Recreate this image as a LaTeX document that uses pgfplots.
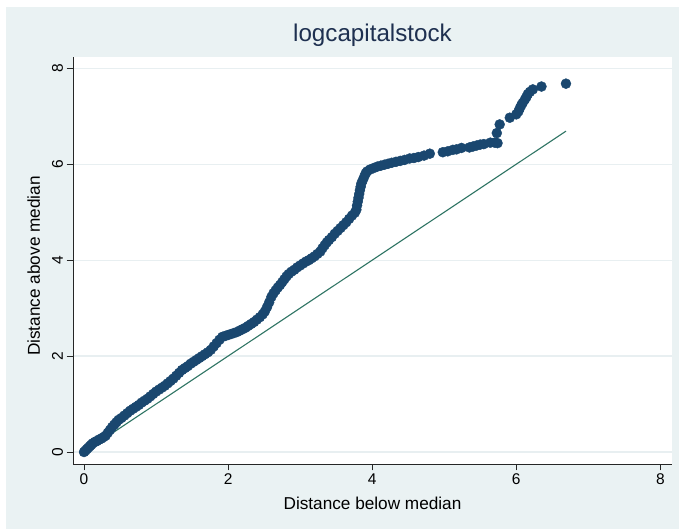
\documentclass[border=0pt]{standalone}
\usepackage{pgfplots}
\pgfplotsset{compat=1.18}
\usepackage{fontspec}
\setmainfont{Liberation Sans}
\definecolor{bgc}{RGB}{234,242,243}
\definecolor{navy}{RGB}{26,71,111}
\definecolor{refc}{RGB}{47,117,100}
\definecolor{gridc}{RGB}{232,239,241}
\definecolor{titlec}{RGB}{30,48,80}
\begin{document}
\begin{tikzpicture}[x=1pt,y=1pt]
\fill[white] (0,0) rectangle (679,529);
\fill[bgc] (6,0) rectangle (679,522);
\begin{axis}[
  scale only axis, width=599pt, height=407pt,
  at={(73pt,65pt)}, anchor=south west,
  axis background/.style={fill=white},
  xmin=-0.153, xmax=8.162, ymin=-0.25, ymax=8.236,
  axis x line*=bottom, axis y line*=left,
  x axis line style={-}, y axis line style={-},
  axis line style={black!85, line width=0.9pt},
  xtick={0,2,4,6,8}, ytick={0,2,4,6,8},
  tick align=outside, major tick length=6.5pt,
  tick style={black!85, line width=0.9pt},
  ymajorgrids, grid style={gridc, line width=1.2pt},
  /pgf/number format/assume math mode=true,
  xticklabel style={font=\fontsize{15.5}{18}\selectfont},
  yticklabel style={font=\fontsize{15.5}{18}\selectfont, rotate=90, anchor=south},
  title={logcapitalstock},
  title style={at={(axis description cs:0.5,1.0221)}, anchor=base, font=\fontsize{24.2}{28}\selectfont, text=titlec, inner sep=0pt},
  xlabel={Distance below median},
  xlabel style={at={(axis description cs:0.5,-0.113)}, anchor=base, font=\fontsize{17.2}{20}\selectfont, inner sep=0pt},
  ylabel={Distance above median},
  ylabel style={at={(axis description cs:-0.0551,0.4865)}, anchor=base, rotate=0, font=\fontsize{17.2}{20}\selectfont, inner sep=0pt},
]
\addplot[only marks, mark=*, mark size=5pt, mark options={draw=navy, fill=navy}] coordinates {
(0.00,0.00) (0.02,0.03) (0.04,0.06) (0.06,0.09) (0.08,0.12) (0.10,0.15)
(0.12,0.18) (0.15,0.21) (0.18,0.23) (0.21,0.26) (0.24,0.28) (0.27,0.31)
(0.30,0.34) (0.33,0.40) (0.36,0.46) (0.39,0.52) (0.42,0.57) (0.45,0.62)
(0.48,0.67) (0.52,0.71) (0.56,0.76) (0.60,0.81) (0.64,0.86) (0.68,0.90)
(0.72,0.94) (0.76,0.98) (0.80,1.03) (0.84,1.07) (0.88,1.11) (0.92,1.16)
(0.96,1.21) (1.00,1.26) (1.04,1.30) (1.08,1.34) (1.12,1.38) (1.16,1.43)
(1.20,1.48) (1.24,1.53) (1.28,1.59) (1.32,1.65) (1.36,1.71) (1.40,1.75)
(1.44,1.79) (1.48,1.84) (1.52,1.88) (1.56,1.92) (1.60,1.96) (1.64,2.00)
(1.68,2.04) (1.72,2.08) (1.76,2.13) (1.80,2.20) (1.84,2.27) (1.88,2.34)
(1.92,2.40) (1.96,2.42) (2.00,2.44) (2.04,2.46) (2.08,2.48) (2.12,2.50)
(2.16,2.53) (2.20,2.56) (2.24,2.59) (2.28,2.63) (2.32,2.67) (2.36,2.71)
(2.40,2.76) (2.44,2.81) (2.48,2.87) (2.51,2.93) (2.54,3.02) (2.57,3.12)
(2.60,3.23) (2.63,3.31) (2.66,3.37) (2.69,3.43) (2.72,3.48) (2.75,3.54)
(2.78,3.60) (2.81,3.66) (2.84,3.71) (2.88,3.76) (2.92,3.80) (2.96,3.85)
(3.00,3.89) (3.04,3.93) (3.08,3.97) (3.12,4.00) (3.16,4.04) (3.20,4.08)
(3.24,4.13) (3.28,4.18) (3.31,4.25) (3.34,4.31) (3.37,4.37) (3.40,4.42)
(3.44,4.48) (3.48,4.55) (3.52,4.61) (3.56,4.67) (3.60,4.73) (3.64,4.79)
(3.68,4.86) (3.72,4.93) (3.76,4.99) (3.78,5.05) (3.79,5.14) (3.80,5.22)
(3.81,5.30) (3.82,5.38) (3.83,5.46) (3.84,5.53) (3.85,5.60) (3.87,5.67)
(3.89,5.74) (3.91,5.81) (3.93,5.85) (3.97,5.89) (4.02,5.92) (4.07,5.95)
(4.12,5.97) (4.17,5.99) (4.22,6.01) (4.27,6.03) (4.33,6.05) (4.39,6.07)
(4.45,6.09) (4.52,6.12) (4.58,6.13) (4.64,6.15) (4.72,6.18) (4.80,6.22)
(4.98,6.25) (5.05,6.27) (5.12,6.30) (5.17,6.31) (5.24,6.34) (5.35,6.35)
(5.40,6.37) (5.45,6.39) (5.50,6.41) (5.55,6.42) (5.64,6.45) (5.70,6.45)
(5.74,6.44) (5.73,6.65) (5.77,6.83) (5.91,6.97) (6.00,7.04) (6.03,7.10)
(6.05,7.17) (6.07,7.23) (6.09,7.28) (6.12,7.35) (6.14,7.40) (6.16,7.46)
(6.19,7.51) (6.23,7.56) (6.35,7.62) (6.69,7.68)
};
\addplot[refc, line width=1.1pt] coordinates {(0,0) (6.69,6.69)};
\end{axis}
\end{tikzpicture}
\end{document}
